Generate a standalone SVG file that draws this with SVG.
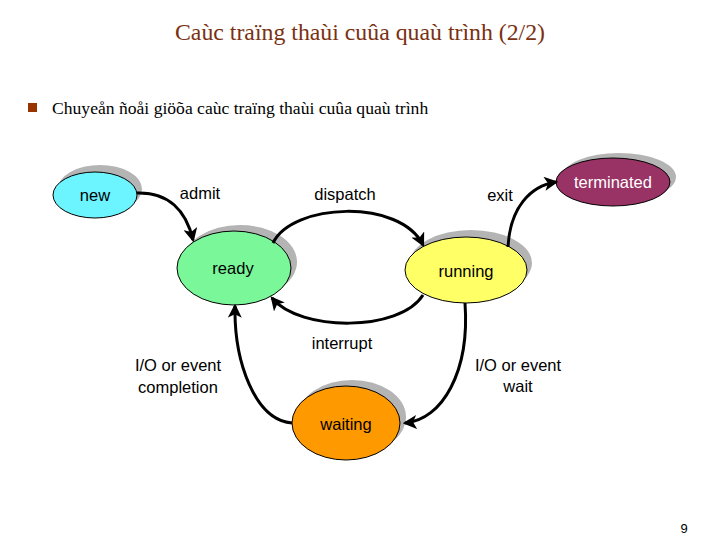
<svg xmlns="http://www.w3.org/2000/svg" width="720" height="540" viewBox="0 0 720 540">
<defs>
<marker id="arr" markerUnits="userSpaceOnUse" markerWidth="14" markerHeight="14" viewBox="0 0 12 12" refX="10" refY="6" orient="auto">
<path d="M0,0 L12,6 L0,12 L3,6 z" fill="#000"/>
</marker>
<style>
.shadow{fill:#b4b4b4;stroke:none}
.node{stroke:#000;stroke-width:1}
.lbl{font-family:"Liberation Sans",Arial,sans-serif;font-size:16.5px;fill:#000;text-anchor:middle}
.edge{fill:none;stroke:#000;stroke-width:3;marker-end:url(#arr)}
.serif{font-family:"Liberation Serif","DejaVu Serif",serif}
</style>
</defs>
<rect width="720" height="540" fill="#fff"/>
<text class="serif" x="360" y="40" font-size="23.8" fill="#7a3112" text-anchor="middle">Caùc traïng thaùi cuûa quaù trình (2/2)</text>
<rect x="28" y="103" width="9" height="9" fill="#993300"/>
<text class="serif" x="52" y="114" font-size="17.6" fill="#000">Chuyeån ñoåi giöõa caùc traïng thaùi cuûa quaù trình</text>

<g id="node-new">
<ellipse class="shadow" cx="100" cy="189" rx="42" ry="24"/>
<ellipse class="node" cx="95" cy="195" rx="42" ry="23" fill="#6cf4ff"/>
<text class="lbl" x="95" y="201">new</text>
</g>
<g id="node-ready">
<ellipse class="shadow" cx="240" cy="262" rx="57" ry="37"/>
<ellipse class="node" cx="234" cy="268" rx="57" ry="37" fill="#7af799"/>
<text class="lbl" x="233" y="274">ready</text>
</g>
<g id="node-running">
<ellipse class="shadow" cx="471" cy="263" rx="61" ry="33"/>
<ellipse class="node" cx="466" cy="270" rx="61" ry="33" fill="#ffff66"/>
<text class="lbl" x="466" y="277">running</text>
</g>
<g id="node-terminated">
<ellipse class="shadow" cx="619" cy="177" rx="57" ry="24"/>
<ellipse class="node" cx="613" cy="182" rx="57" ry="24" fill="#993366"/>
<text class="lbl" x="613" y="188" style="fill:#fff">terminated</text>
</g>
<g id="node-waiting">
<ellipse class="shadow" cx="352" cy="417" rx="54" ry="37"/>
<ellipse class="node" cx="346" cy="423" rx="54" ry="37" fill="#ff9900"/>
<text class="lbl" x="346" y="430">waiting</text>
</g>

<g id="connectors">
<path class="edge" d="M137,193 C168,192 186,210 193,240"/>
<path class="edge" d="M273,243 C292,203 400,198 423,245"/>
<path class="edge" d="M423,295 C400,332 300,332 272,298"/>
<path class="edge" d="M508,247 C510,208 530,186 556,182"/>
<path class="edge" d="M465,303 C470,372 442,420 405,423"/>
<path class="edge" d="M292,423 C255,420 234,362 235,306"/>
</g>

<g id="labels">
<text class="lbl" x="200" y="199">admit</text>
<text class="lbl" x="345" y="200">dispatch</text>
<text class="lbl" x="500" y="201">exit</text>
<text class="lbl" x="342" y="349">interrupt</text>
<text class="lbl" x="178" y="371">I/O or event</text>
<text class="lbl" x="178" y="393">completion</text>
<text class="lbl" x="518" y="371">I/O or event</text>
<text class="lbl" x="518" y="392">wait</text>
</g>
<text x="684" y="533" font-family="Liberation Sans,Arial,sans-serif" font-size="13" fill="#000" text-anchor="middle">9</text>
</svg>
